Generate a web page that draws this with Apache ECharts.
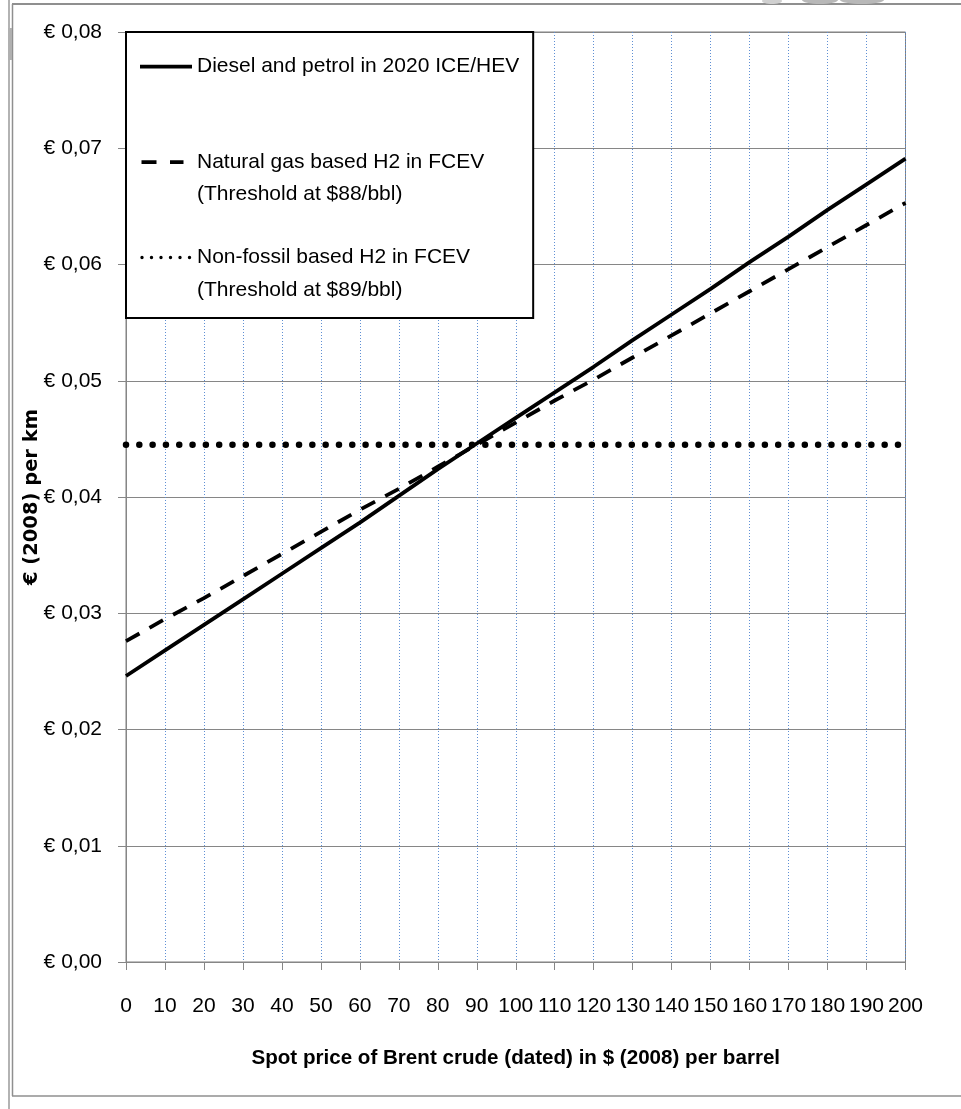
<!DOCTYPE html>
<html>
<head>
<meta charset="utf-8">
<script src="https://cdn.jsdelivr.net/npm/echarts@6/dist/echarts.min.js"></script>
<style>
html,body{margin:0;padding:0;background:#fff;}
#c{width:961px;height:1109px;}
</style>
</head>
<body>
<div id="c"></div>
<script>
// ---- data ----
const brentPrice = [0,10,20,30,40,50,60,70,80,90,100,110,120,130,140,150,160,170,180,190,200];
const dieselPetrol = [0.0246,0.0268,0.0290,0.0312,0.0334,0.0356,0.0378,0.0401,0.0424,0.0446,0.0468,0.0490,0.0512,0.0535,0.0557,0.0579,0.0602,0.0624,0.0647,0.0669,0.0691];
const naturalGasH2 = [0.0276,0.0295,0.0313,0.0332,0.0351,0.0370,0.0389,0.0407,0.0426,0.0445,0.0464,0.0483,0.0501,0.0520,0.0539,0.0558,0.0577,0.0596,0.0615,0.0634,0.0653];
const nonFossilH2 = [0.0445,0.0445,0.0445,0.0445,0.0445,0.0445,0.0445,0.0445,0.0445,0.0445,0.0445,0.0445,0.0445,0.0445,0.0445,0.0445,0.0445,0.0445,0.0445,0.0445,0.0445];
const seriesNames = [
  'Diesel and petrol in 2020 ICE/HEV',
  'Natural gas based H2 in FCEV (Threshold at $88/bbl)',
  'Non-fossil based H2 in FCEV (Threshold at $89/bbl)'
];
const xAxisTicks = {min: 0, max: 200, interval: 10};
const yAxisTicks = {min: 0, max: 0.08, interval: 0.01};
const xAxisTitle = 'Spot price of Brent crude (dated) in $ (2008) per barrel';
const yAxisTitle = '€ (2008) per km';

// ---- styling ----
const FONT = "'Liberation Sans', Arial, sans-serif";
const GRAY = '#868686';

function pairs(ys){ return brentPrice.map((x,i)=>[x, ys[i]]); }

// legend icons (52 x 65 box, line centred on first text line)
const anchors = 'M0,0L0.01,0L0,0.01Z M52,65L51.99,65L52,64.99Z ';
const iconSolid = 'path://' + anchors + 'M0,14.5H52V18.2H0Z';
const iconDashed = 'path://' + anchors + 'M1.5,14.4H16.5V18.2H1.5Z M30,14.4H43.5V18.2H30Z';
function dot(cx, cy, r){ return 'M' + (cx-r) + ',' + cy + 'A' + r + ',' + r + ' 0 1 0 ' + (cx+r) + ',' + cy + 'A' + r + ',' + r + ' 0 1 0 ' + (cx-r) + ',' + cy + 'Z '; }
const iconDotted = 'path://' + anchors + [2,11.5,21,30.5,40,49.5].map(c => dot(c, 16.3, 1.7)).join('');

const chart = echarts.init(document.getElementById('c'), null, {renderer: 'canvas'});
chart.setOption({
  backgroundColor: '#ffffff',
  animation: false,
  grid: {
    left: 126, right: 55.5, top: 32, bottom: 147,
    containLabel: false, outerBoundsMode: 'none',
    show: true, borderColor: '#7f7f7f', borderWidth: 1, backgroundColor: 'transparent'
  },
  legend: {
    left: 126, top: 32,
    orient: 'vertical',
    padding: [18.25, 14, 11.75, 14],
    itemWidth: 52, itemHeight: 65, itemGap: 30.5,
    backgroundColor: '#ffffff',
    borderColor: '#000000', borderWidth: 2, borderRadius: 0,
    selectedMode: false,
    textStyle: {fontFamily: FONT, fontSize: 21, lineHeight: 32.5, color: '#000'},
    formatter: function(name){
      if (name === seriesNames[0]) return name + '\n ';
      return name.replace(' (', '\n(');
    },
    data: [
      {name: seriesNames[0], icon: iconSolid, itemStyle: {color: '#000', borderWidth: 0}},
      {name: seriesNames[1], icon: iconDashed, itemStyle: {color: '#000', borderWidth: 0}},
      {name: seriesNames[2], icon: iconDotted, itemStyle: {color: '#000', borderWidth: 0}}
    ],
    z: 10
  },
  xAxis: {
    type: 'value',
    min: xAxisTicks.min, max: xAxisTicks.max, interval: xAxisTicks.interval,
    name: xAxisTitle,
    nameLocation: 'middle', nameGap: 86, nameMoveOverlap: false,
    nameTextStyle: {fontFamily: FONT, fontSize: 20.6, fontWeight: 'bold', color: '#000'},
    axisLine: {show: true, onZero: false, lineStyle: {color: GRAY, width: 1}},
    axisTick: {show: true, length: 8, inside: false, lineStyle: {color: GRAY, width: 1}},
    axisLabel: {show: true, margin: 33.5, fontFamily: FONT, fontSize: 21, color: '#000', showMinLabel: true, showMaxLabel: true, hideOverlap: false},
    splitLine: {show: true, lineStyle: {color: '#5f8fd4', width: 1, type: [1, 2]}}
  },
  yAxis: {
    type: 'value',
    min: yAxisTicks.min, max: yAxisTicks.max, interval: yAxisTicks.interval,
    name: yAxisTitle,
    nameLocation: 'middle', nameGap: 84, nameMoveOverlap: false,
    nameTextStyle: {fontFamily: "'DejaVu Sans', sans-serif", fontSize: 19.5, fontWeight: 'bold', color: '#000'},
    axisLine: {show: true, lineStyle: {color: GRAY, width: 1}},
    axisTick: {show: true, length: 8, inside: false, lineStyle: {color: GRAY, width: 1}},
    axisLabel: {
      show: true, margin: 24, fontFamily: FONT, fontSize: 21, color: '#000',
      formatter: v => '€ ' + v.toFixed(2).replace('.', ',')
    },
    splitLine: {show: true, lineStyle: {color: GRAY, width: 1, type: 'solid'}}
  },
  series: [
    {
      name: seriesNames[0], type: 'line', data: pairs(dieselPetrol),
      showSymbol: false, silent: true, color: '#000',
      lineStyle: {color: '#000', width: 3.8, type: 'solid', cap: 'butt'}, z: 5
    },
    {
      name: seriesNames[1], type: 'line', data: pairs(naturalGasH2),
      showSymbol: false, silent: true, color: '#000',
      lineStyle: {color: '#000', width: 3.8, type: [15.5, 11.5], cap: 'butt'}, z: 4
    },
    {
      name: seriesNames[2], type: 'line', data: pairs(nonFossilH2),
      showSymbol: false, silent: true, color: '#000',
      lineStyle: {color: '#000', width: 6.5, type: [0.01, 13.3], cap: 'round'}, z: 3
    }
  ],
  graphic: [
    {type: 'line', shape: {x1: 12, y1: 4, x2: 961, y2: 4}, style: {stroke: '#8f8f8f', lineWidth: 2}, silent: true},
    {type: 'line', shape: {x1: 9, y1: 0, x2: 9, y2: 1109}, style: {stroke: '#9a9a9a', lineWidth: 1.5}, silent: true},
    {type: 'line', shape: {x1: 12.5, y1: 4, x2: 12.5, y2: 1096}, style: {stroke: '#8f8f8f', lineWidth: 1.5}, silent: true},
    {type: 'line', shape: {x1: 12, y1: 1096, x2: 961, y2: 1096}, style: {stroke: '#8f8f8f', lineWidth: 1.5}, silent: true},
    {type: 'rect', shape: {x: 8, y: 28, width: 4, height: 32}, style: {fill: '#b0b0b0'}, silent: true},
    {type: 'ellipse', shape: {cx: 772, cy: 1, rx: 10, ry: 3}, style: {fill: '#d0d0d0'}, silent: true},
    {type: 'ellipse', shape: {cx: 820, cy: 0, rx: 18, ry: 4}, style: {fill: '#b8b8b8'}, silent: true},
    {type: 'ellipse', shape: {cx: 862, cy: 0, rx: 22, ry: 4}, style: {fill: '#b8b8b8'}, silent: true}
  ]
});
</script>
</body>
</html>
